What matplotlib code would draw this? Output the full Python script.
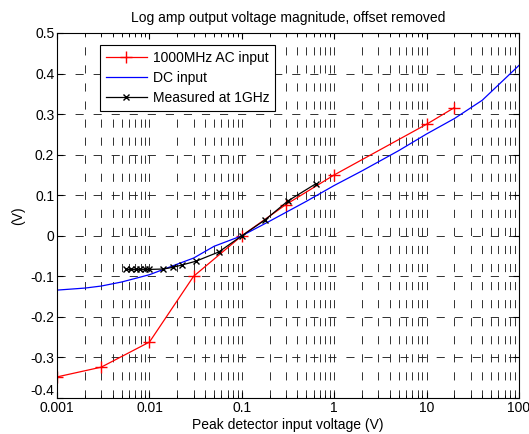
import matplotlib
matplotlib.use("Agg")
import matplotlib.pyplot as plt
from matplotlib.ticker import LogLocator, NullFormatter

plt.rcParams['font.family'] = ['Liberation Sans', 'DejaVu Sans']
plt.rcParams['font.size'] = 10

# 1000MHz AC input (red, + markers)
ac_x = [0.001, 0.003, 0.01, 0.03, 0.1, 0.3, 1, 10, 20]
ac_y = [-0.348, -0.324, -0.262, -0.100, 0.0, 0.077, 0.150, 0.275, 0.316]

# DC input (blue, no markers)
dc_x = [0.001, 0.002, 0.003, 0.005, 0.01, 0.02, 0.03, 0.05, 0.1,
        0.2, 0.5, 1, 2, 5, 10, 20, 40, 100]
dc_y = [-0.134, -0.129, -0.124, -0.114, -0.096, -0.070, -0.055, -0.026, 0.0,
        0.036, 0.085, 0.124, 0.160, 0.210, 0.251, 0.289, 0.334, 0.420]

# Measured at 1GHz (black, x markers)
meas_x = [0.0056, 0.0063, 0.0071, 0.0079, 0.0089, 0.01, 0.0141, 0.0178,
          0.0225, 0.0316, 0.0562, 0.1, 0.178, 0.316, 0.63]
meas_y = [-0.083, -0.083, -0.083, -0.083, -0.083, -0.083, -0.082, -0.078,
          -0.072, -0.063, -0.040, 0.0, 0.039, 0.086, 0.128]

fig = plt.figure(figsize=(5.29, 4.34), dpi=100)
ax = fig.add_axes([0.108, 0.083, 0.873, 0.841])

ax.plot(ac_x, ac_y, color='red', marker='+', markersize=8, linewidth=0.9,
        label='1000MHz AC input')
ax.plot(dc_x, dc_y, color='blue', linewidth=0.9, label='DC input')
ax.plot(meas_x, meas_y, color='black', marker='x', markersize=4,
        linewidth=0.9, label='Measured at 1GHz')

ax.set_xscale('log')
ax.set_xlim(0.001, 100)
ax.set_ylim(-0.4, 0.5)
ax.set_xticks([0.001, 0.01, 0.1, 1, 10, 100])
ax.set_xticklabels(['0.001', '0.01', '0.1', '1', '10', '100'])
ax.xaxis.set_minor_locator(LogLocator(base=10, subs=range(2, 10)))
ax.xaxis.set_minor_formatter(NullFormatter())
ax.set_yticks([-0.4, -0.3, -0.2, -0.1, 0, 0.1, 0.2, 0.3, 0.4, 0.5])
ax.set_yticklabels(['-0.4', '-0.3', '-0.2', '-0.1', '0', '0.1', '0.2',
                    '0.3', '0.4', '0.5'])

# matlab-ish grid: long dashes, dark grey
dash = (0, (9, 11))
ax.grid(True, which='major', axis='both', color='#222222', linestyle=dash,
        linewidth=0.65)
ax.grid(True, which='minor', axis='x', color='#222222', linestyle=dash,
        linewidth=0.65)
ax.set_axisbelow(True)

ax.tick_params(which='both', direction='in', top=True, right=True,
               labelsize=10, pad=2)
ax.tick_params(which='major', length=4)
ax.tick_params(which='minor', length=2)
# nudge the bottom y label up a bit, like the original
ax.get_yticklabels()[0].set_verticalalignment('bottom')

ax.set_title('Log amp output voltage magnitude, offset removed',
             fontsize=10, pad=8)
ax.set_xlabel('Peak detector input voltage (V)', labelpad=2)
ax.set_ylabel('(V)', labelpad=4)

leg = ax.legend(loc='upper left', bbox_to_anchor=(0.093, 0.967),
                borderaxespad=0, fancybox=False, edgecolor='black',
                framealpha=1, fontsize=10, handlelength=3.0,
                borderpad=0.4, labelspacing=0.45, handletextpad=0.4)
leg.get_frame().set_linewidth(0.8)

for s in ax.spines.values():
    s.set_linewidth(0.8)

fig.savefig('out.png', dpi=100)
